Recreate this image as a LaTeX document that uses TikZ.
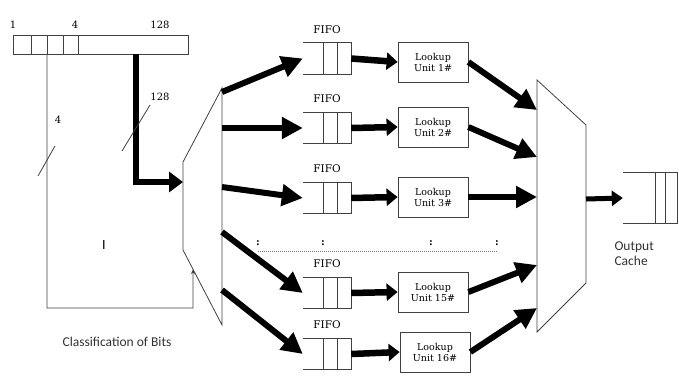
\documentclass[tikz,border=0pt]{standalone}
\usepackage{fontspec}
\setmainfont{DejaVu Serif}
\newfontfamily\labelfont{Carlito}
\usetikzlibrary{positioning, arrows.meta, calc}
\definecolor{dotgreen}{RGB}{60,160,60}

\begin{document}
\begin{tikzpicture}[
    x=1pt, y=-1pt,
    >={Triangle[length=21pt, width=21pt]},
    wire/.style={draw=black!75, line width=0.8pt},
    regbox/.style={wire, minimum width=175pt, minimum height=19pt, inner sep=0pt},
    fifo/.style={minimum width=48pt, minimum height=31pt, inner sep=0pt},
    fifolabel/.style={font=\fontsize{10.5}{12}\selectfont, inner sep=0pt},
    lookup/.style={wire, minimum width=70pt, minimum height=40pt, align=center, inner sep=1pt, font=\fontsize{9.5}{11}\selectfont},
    bitnum/.style={font=\fontsize{10}{12}\selectfont, inner sep=0pt},
    caption/.style={font=\labelfont\fontsize{13.5}{15}\selectfont, text=black!80, align=left},
    bus/.style={line width=6pt, ->},
    feed/.style={line width=6.5pt, -{Triangle[length=11pt, width=17pt]}},
]
\useasboundingbox (0,0) rectangle (679,376);

% Register of bits
\node[regbox] (reg) at (100.5,44.5) {};
\foreach \x in {31,47,63,78}
    \draw[wire] (\x,35) -- (\x,54);
\node[bitnum] (b1) at (13,25) {1};
\node[bitnum] (b4) at (75,25) {4};
\node[bitnum] (b128) at (160,25) {128};
\coordinate (tap4) at (47,54);
\coordinate (tap128) at (136,54);

% Demultiplexer
\coordinate (dtl) at (183,162);
\coordinate (dtr) at (222,88);
\coordinate (dbr) at (222,325);
\coordinate (dbl) at (183,250);
\draw[wire] (dtl) -- (dtr) -- (dbr) -- (dbl) -- cycle;
\coordinate (din) at (183,182);
\coordinate (dsel) at ($(dbl)!0.256!(dbr)$);
\coordinate (selcorner) at (193,308);

% Data and select lines
\draw[line width=6pt, -{Triangle[length=14pt, width=20pt]}] (tap128) |- (din);
\draw[wire, -{Stealth[length=5pt, width=4pt]}] (tap4) |- (selcorner) -- (dsel);
\draw[wire] (38,176) -- (55,146);
\draw[wire] (122,151) -- (150,105);
\node[bitnum] (w4) at (58,120) {4};
\node[bitnum] (w128) at (160,97) {128};
\node[font=\labelfont\fontsize{14}{15}\selectfont] (cur) at (104,245) {I};

% FIFOs
\foreach \i/\y in {1/58.5, 2/128, 3/198, 15/293, 16/354} {
    \node[fifo] (f\i) at (327,\y) {};
    \draw[wire] (f\i.north west) -- (f\i.north east) -- (f\i.south east) -- (f\i.south west);
    \draw[wire] ($(f\i.north west)!0.42!(f\i.north east)$) -- ($(f\i.south west)!0.42!(f\i.south east)$);
    \draw[wire] ($(f\i.north west)!0.71!(f\i.north east)$) -- ($(f\i.south west)!0.71!(f\i.south east)$);
    \node[fifolabel, above=9pt of f\i] (fl\i) {FIFO};
}

% Lookup units
\node[lookup] (u1) at (433,62) {Lookup\\Unit 1\#};
\node[lookup] (u2) at (433,127) {Lookup\\Unit 2\#};
\node[lookup] (u3) at (433,197) {Lookup\\Unit 3\#};
\node[lookup] (u15) at (433,292) {Lookup\\Unit 15\#};
\node[lookup] (u16) at (435,352) {Lookup\\Unit 16\#};

% Multiplexer
\coordinate (mtl) at (537,80);
\coordinate (mtr) at (586,125);
\coordinate (mbr) at (586,283);
\coordinate (mbl) at (537,332);
\draw[wire] (mtl) -- (mtr) -- (mbr) -- (mbl) -- cycle;
\coordinate (mout) at (586,199);

% Arrows
\foreach \i/\dy/\my in {1/92/110, 2/128/157, 3/187/197, 15/232/265, 16/290/308} {
    \coordinate (d\i) at (222,\dy);
    \coordinate (m\i) at (537,\my);
    \draw[bus] (d\i) -- (f\i.west);
    \draw[feed] (f\i.east) -- (u\i.west);
    \draw[bus] (u\i.east) -- (m\i);
}

% Elided units
\foreach \x in {258,323,431,497}
    \node[font=\bfseries\fontsize{10}{12}\selectfont] at (\x,243) {:};
\draw[dotgreen, dash pattern=on 1pt off 1pt, line width=0.8pt] (258,251) -- (497,251);

% Output cache
\node[minimum width=54pt, minimum height=50pt, inner sep=0pt] (cache) at (650,198) {};
\draw[wire] (cache.north west) -- (cache.north east) -- (cache.south east) -- (cache.south west);
\draw[wire] ($(cache.north west)!0.59!(cache.north east)$) -- ($(cache.south west)!0.59!(cache.south east)$);
\draw[wire] ($(cache.north west)!0.78!(cache.north east)$) -- ($(cache.south west)!0.78!(cache.south east)$);
\draw[line width=5pt, -{Triangle[length=11pt, width=15pt]}] (mout) -- (cache.west);

% Captions
\node[caption, anchor=west] (outcap) at (611,254) {Output\\Cache};
\node[caption] (cls) at (117,342) {Classification of Bits};

\end{tikzpicture}
\end{document}
